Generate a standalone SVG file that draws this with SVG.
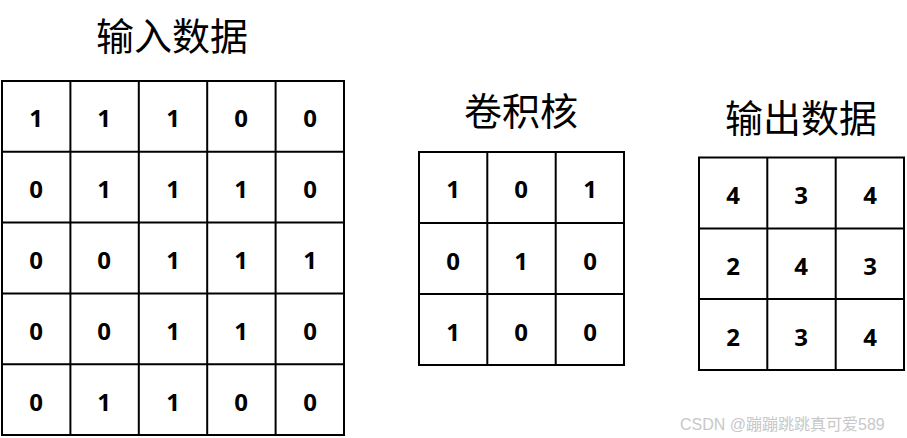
<svg xmlns="http://www.w3.org/2000/svg" width="907" height="438" viewBox="0 0 907 438">
<style>
.title{font-family:"Noto Sans CJK SC","Microsoft YaHei",sans-serif;font-size:38px;fill:#000;text-anchor:middle}
.grid{fill:none;stroke:#000;stroke-width:2}
.n{font-family:"Open Sans","Liberation Sans",sans-serif;font-weight:bold;font-size:24px;fill:#000;text-anchor:middle}
.wm{font-family:"Liberation Sans","Noto Sans CJK SC",sans-serif;font-size:16px;fill:#c8c8c8}
</style>
<rect width="907" height="438" fill="#fff"/>
<g id="input">
<text class="title" x="172" y="50">输入数据</text>
<path class="grid" d="M2,81H344V435H2Z M70.4,81V435 M138.8,81V435 M207.2,81V435 M275.6,81V435 M2,151.8H344 M2,222.6H344 M2,293.4H344 M2,364.2H344"/>
<g class="n">
<text x="36" y="127">1</text><text x="104" y="127">1</text><text x="173" y="127">1</text><text x="241" y="127">0</text><text x="310" y="127">0</text>
<text x="36" y="198">0</text><text x="104" y="198">1</text><text x="173" y="198">1</text><text x="241" y="198">1</text><text x="310" y="198">0</text>
<text x="36" y="269">0</text><text x="104" y="269">0</text><text x="173" y="269">1</text><text x="241" y="269">1</text><text x="310" y="269">1</text>
<text x="36" y="340">0</text><text x="104" y="340">0</text><text x="173" y="340">1</text><text x="241" y="340">1</text><text x="310" y="340">0</text>
<text x="36" y="411">0</text><text x="104" y="411">1</text><text x="173" y="411">1</text><text x="241" y="411">0</text><text x="310" y="411">0</text>
</g>
</g>
<g id="kernel">
<text class="title" x="521" y="125">卷积核</text>
<path class="grid" d="M419,152H624V365H419Z M487.3,152V365 M555.7,152V365 M419,223H624 M419,294H624"/>
<g class="n">
<text x="453" y="198">1</text><text x="521" y="198">0</text><text x="590" y="198">1</text>
<text x="453" y="270">0</text><text x="521" y="270">1</text><text x="590" y="270">0</text>
<text x="453" y="341">1</text><text x="521" y="341">0</text><text x="590" y="341">0</text>
</g>
</g>
<g id="output">
<text class="title" x="801" y="132">输出数据</text>
<path class="grid" d="M699,157.5H904V370H699Z M767.3,157.5V370 M835.7,157.5V370 M699,228.5H904 M699,299H904"/>
<g class="n">
<text x="733" y="204">4</text><text x="801" y="204">3</text><text x="870" y="204">4</text>
<text x="733" y="275">2</text><text x="801" y="275">4</text><text x="870" y="275">3</text>
<text x="733" y="346">2</text><text x="801" y="346">3</text><text x="870" y="346">4</text>
</g>
</g>
<g id="connectors"></g>
<text class="wm" x="680" y="430">CSDN @蹦蹦跳跳真可爱589</text>
</svg>
